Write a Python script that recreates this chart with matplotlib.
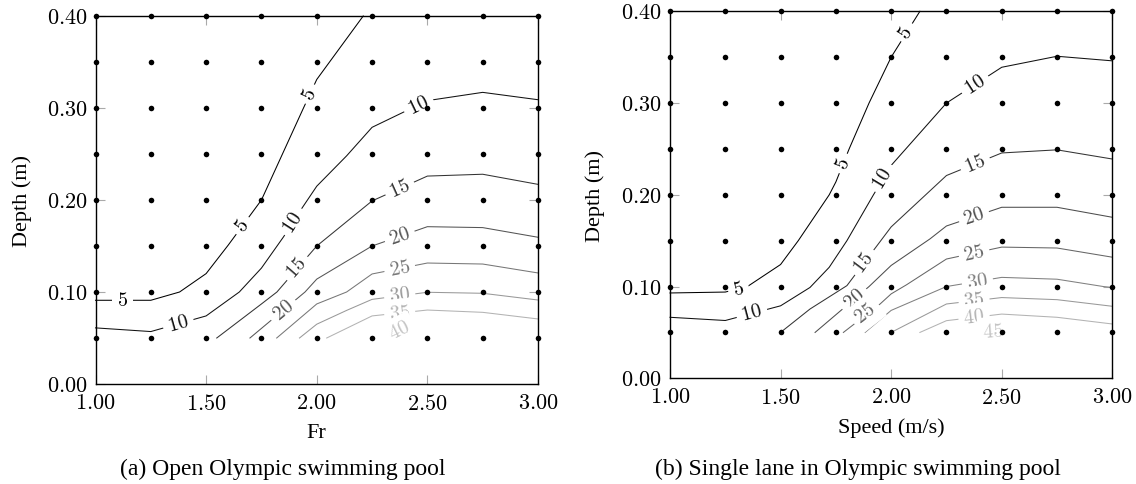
import math
import matplotlib
matplotlib.use('Agg')
import matplotlib.pyplot as plt

plt.rcParams['mathtext.fontset'] = 'cm'
plt.rcParams['font.family'] = ['Liberation Serif', 'DejaVu Serif']

# measurement grid (the dots)
grid_x = [1.00, 1.25, 1.50, 1.75, 2.00, 2.25, 2.50, 2.75, 3.00]
grid_y = [0.05, 0.10, 0.15, 0.20, 0.25, 0.30, 0.35, 0.40]

x_ticks = [1.00, 1.50, 2.00, 2.50, 3.00]
y_ticks = [0.00, 0.10, 0.20, 0.30, 0.40]

# (a) open pool: contour lines, (x, depth)
open_5 = [(1.00, 0.091), (1.25, 0.091), (1.38, 0.100), (1.50, 0.120), (1.60, 0.151),
          (1.75, 0.200), (1.845, 0.250), (1.94, 0.300), (2.00, 0.331), (2.21, 0.400)]
open_10 = [(1.00, 0.061), (1.25, 0.057), (1.50, 0.074), (1.65, 0.100), (1.75, 0.126),
           (1.85, 0.160), (1.93, 0.190), (2.00, 0.215), (2.135, 0.248), (2.25, 0.279),
           (2.50, 0.308), (2.75, 0.317), (3.00, 0.309)]
open_15 = [(1.548, 0.050), (1.75, 0.087), (1.82, 0.100), (2.00, 0.150), (2.25, 0.199),
           (2.50, 0.226), (2.75, 0.228), (3.00, 0.217)]
open_20 = [(1.698, 0.050), (1.947, 0.100), (2.00, 0.114), (2.25, 0.150), (2.50, 0.171),
           (2.75, 0.170), (3.00, 0.1595)]
open_25 = [(1.819, 0.050), (2.00, 0.087), (2.135, 0.100), (2.25, 0.1196), (2.50, 0.1315),
           (2.75, 0.1304), (3.00, 0.1207)]
open_30 = [(1.922, 0.050), (2.00, 0.065), (2.135, 0.080), (2.25, 0.092), (2.50, 0.0997),
           (2.75, 0.0986), (3.00, 0.0913)]
open_35 = [(2.045, 0.050), (2.25, 0.074), (2.50, 0.0804), (2.75, 0.0779), (3.00, 0.0707)]
open_40 = [(2.35, 0.055), (2.40, 0.061)]

open_lines = {5: open_5, 10: open_10, 15: open_15, 20: open_20, 25: open_25,
              30: open_30, 35: open_35, 40: open_40}
open_labels = {5: [(1.12, 0.091), (1.665, 0.172), (1.97, 0.315)],
               10: [(1.375, 0.065), (1.895, 0.176), (2.46, 0.303)],
               15: [(1.91, 0.126), (2.375, 0.2125)],
               20: [(1.85, 0.080), (2.375, 0.1605)],
               25: [(2.375, 0.1255)],
               30: [(2.375, 0.096)],
               35: [(2.375, 0.077)],
               40: [(2.376, 0.058)]}

# (b) single lane: contour lines, (speed, depth)
lane_5 = [(1.00, 0.093), (1.25, 0.094), (1.35, 0.100), (1.50, 0.124), (1.58, 0.150),
          (1.72, 0.200), (1.75, 0.214), (1.81, 0.250), (1.90, 0.300), (2.00, 0.350),
          (2.13, 0.400)]
lane_10 = [(1.00, 0.0665), (1.25, 0.063), (1.50, 0.079), (1.633, 0.099), (1.72, 0.121),
           (1.80, 0.150), (1.92, 0.200), (2.00, 0.232), (2.25, 0.300), (2.50, 0.339),
           (2.75, 0.351), (3.00, 0.346)]
lane_15 = [(1.50, 0.050), (1.633, 0.0755), (1.80, 0.101), (2.00, 0.165), (2.25, 0.221),
           (2.50, 0.2456), (2.75, 0.249), (3.00, 0.239)]
lane_20 = [(1.656, 0.050), (1.90, 0.100), (2.00, 0.123), (2.176, 0.152), (2.25, 0.166),
           (2.50, 0.1864), (2.75, 0.1864), (3.00, 0.1755)]
lane_25 = [(1.784, 0.050), (1.95, 0.081), (2.00, 0.092), (2.07, 0.102), (2.25, 0.130),
           (2.50, 0.143), (2.75, 0.142), (3.00, 0.132)]
lane_30 = [(1.882, 0.050), (2.00, 0.074), (2.25, 0.100), (2.50, 0.110), (2.75, 0.108),
           (2.96, 0.100), (3.00, 0.099)]
lane_35 = [(2.00, 0.050), (2.25, 0.081), (2.50, 0.088), (2.75, 0.0857), (3.00, 0.0785)]
lane_40 = [(2.13, 0.050), (2.25, 0.0628), (2.50, 0.070), (2.75, 0.0665), (3.00, 0.0592)]
lane_45 = [(2.43, 0.0505), (2.49, 0.0515)]

lane_lines = {5: lane_5, 10: lane_10, 15: lane_15, 20: lane_20, 25: lane_25,
              30: lane_30, 35: lane_35, 40: lane_40, 45: lane_45}
lane_labels = {5: [(1.31, 0.097), (1.785, 0.234), (2.07, 0.377)],
               10: [(1.37, 0.071), (1.965, 0.218), (2.38, 0.320)],
               15: [(1.88, 0.126), (2.38, 0.234)],
               20: [(1.835, 0.086), (2.375, 0.176)],
               25: [(1.885, 0.071), (2.375, 0.1365)],
               30: [(2.39, 0.1055)],
               35: [(2.375, 0.0845)],
               40: [(2.375, 0.066)],
               45: [(2.462, 0.051)]}

open_colors = {5: '#000000', 10: '#111111', 15: '#333333', 20: '#555555',
               25: '#777777', 30: '#999999', 35: '#b3b3b3', 40: '#c4c4c4'}
lane_colors = {5: '#000000', 10: '#111111', 15: '#333333', 20: '#4d4d4d', 25: '#666666',
               30: '#808080', 35: '#999999', 40: '#b3b3b3', 45: '#c4c4c4'}

W, H = 1136, 485
fig = plt.figure(figsize=(W / 100, H / 100), dpi=100)


def axes_at(l, t, r, b):
    return fig.add_axes([l / W, 1 - b / H, (r - l) / W, (b - t) / H])


def line_angle(ax, pts, x, y):
    # screen angle of the polyline segment closest to (x, y)
    d = ax.transData.transform(pts)
    p = ax.transData.transform((x, y))
    best, ang = None, 0.0
    for (x0, y0), (x1, y1) in zip(d[:-1], d[1:]):
        vx, vy = x1 - x0, y1 - y0
        L2 = vx * vx + vy * vy
        t = max(0, min(1, ((p[0] - x0) * vx + (p[1] - y0) * vy) / L2))
        dist = math.hypot(x0 + t * vx - p[0], y0 + t * vy - p[1])
        if best is None or dist < best:
            best, ang = dist, math.degrees(math.atan2(vy, vx))
    if ang > 90:
        ang -= 180
    if ang < -90:
        ang += 180
    return ang


def draw_panel(ax, lines, labels, colors):
    ax.set_xlim(1.0, 3.0)
    ax.set_ylim(0.0, 0.4)
    ax.set_xticks(x_ticks)
    ax.set_xticklabels([r'$%.2f$' % v for v in x_ticks])
    ax.set_yticks(y_ticks)
    ax.set_yticklabels([r'$%.2f$' % v for v in y_ticks])
    ax.tick_params(direction='in', length=6.5, width=0.8, color='#aaaaaa',
                   top=True, right=True, labelsize=16)
    ax.tick_params(axis='x', pad=7)
    ax.tick_params(axis='y', pad=6)
    for s in ax.spines.values():
        s.set_linewidth(1.0)
        s.set_color('black')
        s.set_zorder(3)

    for lev, pts in lines.items():
        xs = [p[0] for p in pts]
        ys = [p[1] for p in pts]
        ax.plot(xs, ys, color=colors[lev], lw=0.75, zorder=2, clip_on=False)
        for (lx, ly) in labels[lev]:
            ang = line_angle(ax, pts, lx, ly)
            ax.text(lx, ly, r'$%d$' % lev, rotation=ang, rotation_mode='anchor',
                    ha='center', va='center', fontsize=14.5, color=colors[lev],
                    bbox=dict(boxstyle='square,pad=0.25', fc='white', ec='none'),
                    zorder=3.5)

    gx = [x for y in grid_y for x in grid_x]
    gy = [y for y in grid_y for x in grid_x]
    ax.plot(gx, gy, 'o', color='black', ms=4.0, mew=0, zorder=6, clip_on=False)


ax1 = axes_at(95.5, 17, 538, 385)
ax2 = axes_at(670, 12.3, 1112.3, 379.3)
draw_panel(ax1, open_lines, open_labels, open_colors)
draw_panel(ax2, lane_lines, lane_labels, lane_colors)

fig.text(22 / W, 1 - 201 / H, 'Depth (m)', rotation=90, ha='center', va='center', fontsize=16)
fig.text(595 / W, 1 - 196 / H, 'Depth (m)', rotation=90, ha='center', va='center', fontsize=16)
fig.text(316.7 / W, 1 - 438 / H, 'Fr', ha='center', va='baseline', fontsize=16)
fig.text(891 / W, 1 - 433 / H, 'Speed (m/s)', ha='center', va='baseline', fontsize=16)
fig.text(283 / W, 1 - 475 / H, '(a) Open Olympic swimming pool', ha='center',
         va='baseline', fontsize=17)
fig.text(858.3 / W, 1 - 475 / H, '(b) Single lane in Olympic swimming pool', ha='center',
         va='baseline', fontsize=17)

fig.savefig('out.png', dpi=100)
